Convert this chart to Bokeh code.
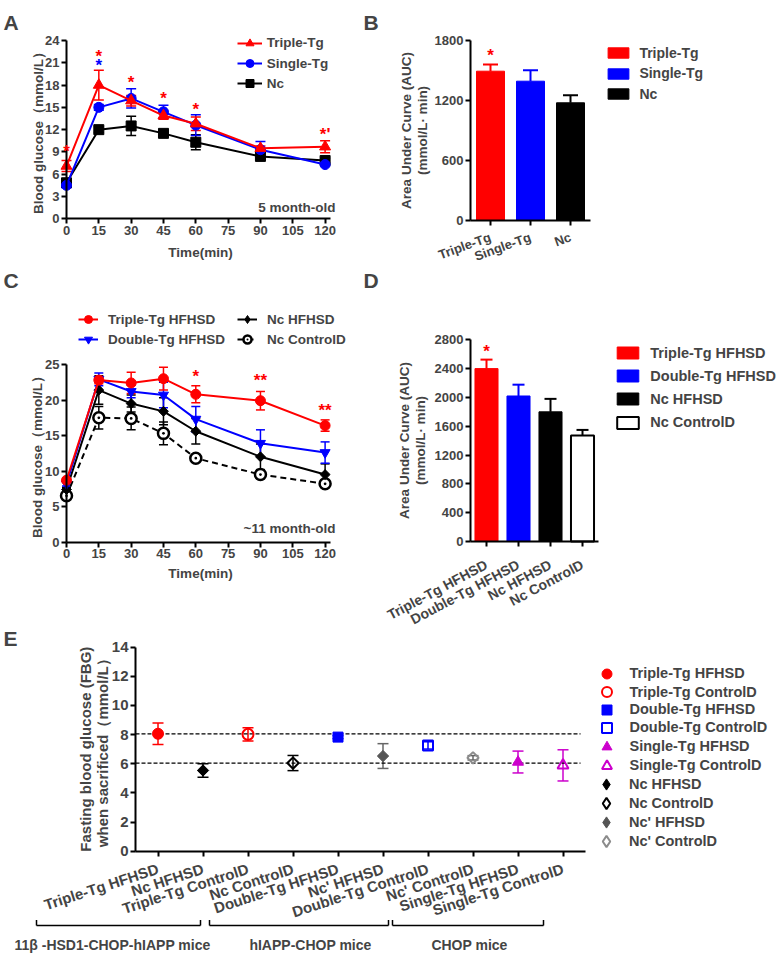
import math
from bokeh.plotting import figure
from bokeh.models import (ColumnDataSource, FixedTicker, Range1d, Legend, LegendItem, LinearAxis,
                          Whisker, TeeHead, Label, LabelSet, Arrow)
from bokeh.embed import file_html
from bokeh.resources import INLINE
from bokeh.core.properties import value

FONT = "Liberation Sans"
RED, BLUE, BLACK = "#ff0000", "#0000ff", "#000000"
MAGENTA, DGRAY, LGRAY = "#cc00cc", "#555555", "#8c8c8c"
W, H = 776, 954

# ---------------- data ----------------
time_min = [0, 15, 30, 45, 60, 90, 120]
time_ticks = [0, 15, 30, 45, 60, 75, 90, 105, 120]

# Panel A (5 month-old)
a_triple = [7.1, 18.0, 15.9, 13.9, 12.8, 9.5, 9.7]
a_triple_err = [0.75, 2.0, 0.7, 0.5, 0.9, 0.3, 0.8]
a_single = [4.5, 15.0, 16.2, 14.4, 12.6, 9.3, 7.3]
a_single_err = [0.3, 0.4, 1.3, 0.9, 1.4, 1.1, 0.2]
a_nc = [4.85, 12.0, 12.5, 11.5, 10.3, 8.4, 7.85]
a_nc_err = [0.3, 0.4, 1.3, 0.4, 1.0, 0.4, 0.3]
a_sig_t = [0, 15, 15, 30, 45, 60, 120]
a_sig_y = [9.0, 21.8, 20.7, 18.3, 16.2, 14.7, 11.4]
a_sig_txt = ["*", "*", "*", "*", "*", "*", "*'"]
a_sig_col = [RED, RED, BLUE, RED, RED, RED, RED]

# Panel B (AUC, 5 month-old)
b_groups = ["Triple-Tg", "Single-Tg", "Nc"]
b_auc = [1493, 1393, 1177]
b_err = [67, 110, 76]

# Panel C (~11 month-old)
c_triple = [8.7, 22.8, 22.4, 23.0, 20.8, 19.9, 16.4]
c_triple_err = [0.3, 0.5, 1.5, 1.6, 1.2, 1.3, 0.8]
c_double = [8.2, 22.9, 21.2, 20.7, 17.3, 13.9, 12.6]
c_double_err = [0.3, 0.9, 0.9, 1.8, 1.8, 1.9, 1.5]
c_nc = [7.4, 21.4, 19.5, 18.4, 15.6, 12.0, 9.5]
c_nc_err = [0.3, 2.0, 1.2, 1.9, 1.8, 1.8, 1.5]
c_ctrl = [6.5, 17.5, 17.4, 15.3, 11.8, 9.5, 8.2]
c_ctrl_err = [0.3, 1.6, 1.6, 1.6, 0.4, 0.6, 0.4]
c_sig_t = [60, 90, 120]
c_sig_y = [23.3, 22.75, 18.55]
c_sig_txt = ["*", "**", "**"]

# Panel D (AUC, ~11 month-old)
d_groups = ["Triple-Tg HFHSD", "Double-Tg HFHSD", "Nc HFHSD", "Nc ControlD"]
d_auc = [2400, 2020, 1800, 1470]
d_err = [125, 157, 180, 79]

# Panel E (FBG when sacrificed)
e_groups = ["Triple-Tg HFHSD", "Nc HFHSD", "Triple-Tg ControlD", "Nc ControlD", "Double-Tg HFHSD",
            "Nc' HFHSD", "Double-Tg ControlD", "Nc' ControlD", "Single-Tg HFHSD", "Single-Tg ControlD"]
e_fbg = [8.06, 5.54, 8.02, 6.05, 7.83, 6.53, 7.26, 6.41, 6.12, 5.89]
e_sem = [0.73, 0.46, 0.45, 0.52, 0.10, 0.85, 0.25, 0.15, 0.75, 1.07]
e_ref_levels = [8.05, 6.05]
e_legend_order = ["Triple-Tg HFHSD", "Triple-Tg ControlD", "Double-Tg HFHSD", "Double-Tg ControlD",
                  "Single-Tg HFHSD", "Single-Tg ControlD", "Nc HFHSD", "Nc ControlD", "Nc' HFHSD", "Nc' ControlD"]
e_mouse_lines = ["11β -HSD1-CHOP-hIAPP mice", "hIAPP-CHOP mice", "CHOP mice"]

# marker styles for E: (marker, colour, filled, size, angle)
DIAM = math.pi / 4
e_style = {
    "Triple-Tg HFHSD": ("circle", RED, True, 11, 0),
    "Triple-Tg ControlD": ("circle", RED, False, 11, 0),
    "Double-Tg HFHSD": ("square", BLUE, True, 10, 0),
    "Double-Tg ControlD": ("square", BLUE, False, 10, 0),
    "Single-Tg HFHSD": ("triangle", MAGENTA, True, 11, 0),
    "Single-Tg ControlD": ("triangle", MAGENTA, False, 11, 0),
    "Nc HFHSD": ("square", BLACK, True, 8, DIAM),
    "Nc ControlD": ("square", BLACK, False, 8, DIAM),
    "Nc' HFHSD": ("square", DGRAY, True, 8, DIAM),
    "Nc' ControlD": ("square", LGRAY, False, 8, DIAM),
}

# ---------------- one canvas, one coordinate system per panel ----------------
p = figure(width=W, height=H, x_range=Range1d(0, W), y_range=Range1d(H, 0),
           x_axis_location=None, y_axis_location=None, output_backend="svg", toolbar_location=None,
           min_border=0, min_border_left=0, min_border_right=0, min_border_top=0, min_border_bottom=0)
p.grid.visible = False
p.outline_line_color = None


def lin(pa, pb, da, db):
    return lambda px: da + (px - pa) * (db - da) / (pb - pa)


# panel -> (x pixel a, x pixel b, x data a, x data b), (y pixel a, y pixel b, y data a, y data b)
panel_maps = {
    "A": ((66, 324.6, 0, 120), (218.3, 40, 0, 24)),
    "B": ((470, 590, 0.5, 3.5), (220, 40, 0, 1800)),
    "C": ((66, 324.6, 0, 120), (541.5, 364, 0, 25)),
    "D": ((470, 598, 0.5, 4.5), (541, 339.3, 0, 2800)),
    "E": ((135, 585, 0.5, 10.5), (850.7, 646.7, 0, 14)),
}
xr, yr = {}, {}
for k, (mx, my) in panel_maps.items():
    fx, fy = lin(*mx), lin(*my)
    xr["x" + k] = Range1d(fx(0), fx(W))
    yr["y" + k] = Range1d(fy(H), fy(0))
p.extra_x_ranges = xr
p.extra_y_ranges = yr


def rn(k):
    return dict(x_range_name="x" + k, y_range_name="y" + k)


def style_axis(ax, size, standoff=2):
    ax.axis_line_width = 2
    ax.major_tick_line_width = 2
    ax.major_tick_in = 0
    ax.major_tick_out = 5
    ax.minor_tick_line_color = None
    ax.major_label_text_font = FONT
    ax.major_label_text_font_style = "bold"
    ax.major_label_text_font_size = size
    ax.major_label_standoff = standoff


def axes(k, xbounds, ybounds, xticks, yticks, size="13px", xsize=None, xlabels=None, angle=0.0, xstand=2):
    ya = LinearAxis(fixed_location=xbounds[0], bounds=ybounds, ticker=FixedTicker(ticks=yticks), **rn(k))
    style_axis(ya, size)
    p.add_layout(ya, "left")
    xa = LinearAxis(fixed_location=ybounds[0], bounds=xbounds, ticker=FixedTicker(ticks=xticks), **rn(k))
    style_axis(xa, xsize or size, xstand)
    if xlabels:
        xa.major_label_overrides = {t: s for t, s in zip(xticks, xlabels)}
    if angle:
        xa.major_label_orientation = angle
    p.add_layout(xa, "below")


def text(x, y, s, size="13px", align="center", baseline="middle", angle=0.0):
    p.add_layout(Label(x=x, y=y, text=s, text_font=FONT, text_font_style="bold", text_font_size=size,
                       text_align=align, text_baseline=baseline, angle=angle))


def curve(k, xs, ys, es, color, marker, size, dash="solid", fill=None, cap=10, mlw=1.0, angle=0.0):
    src = ColumnDataSource(dict(x=xs, y=ys, lo=[a - b for a, b in zip(ys, es)],
                                hi=[a + b for a, b in zip(ys, es)]))
    p.add_layout(Whisker(source=src, base="x", lower="lo", upper="hi", line_color=color, line_width=1.5,
                         lower_head=TeeHead(size=cap, line_color=color, line_width=1.5),
                         upper_head=TeeHead(size=cap, line_color=color, line_width=1.5), **rn(k)))
    lr = p.line("x", "y", source=src, line_color=color, line_width=2, line_dash=dash, **rn(k))
    sr = p.scatter("x", "y", source=src, marker=marker, size=size, angle=angle,
                   fill_color=fill if fill else color, line_color=color, line_width=mlw, **rn(k))
    return [lr, sr]


def legend_diamond(k, color, filled):
    # an undrawn twin renderer: the legend shows a diamond for the rotated-square data markers
    r = p.scatter(x=[0], y=[0], marker="diamond", fill_color=color, line_color=color,
                  fill_alpha=1 if filled else 0, line_width=1 if filled else 2, **rn(k))
    r.visible = False
    return r


def legend1(label, renderers, left, cy, gw, gh, lh, standoff, size, top_off=None):
    h = max(gh, lh)
    top = cy - (h / 2 if top_off is None else top_off)
    leg = Legend(items=[LegendItem(label=label, renderers=renderers)], location=(left, H - (top + h)),
                 glyph_width=int(gw), glyph_height=int(gh), label_height=int(lh),
                 label_standoff=int(round(standoff)),
                 spacing=0, padding=0, margin=0, border_line_color=None, background_fill_color=None,
                 inactive_fill_alpha=0,
                 label_text_font=FONT, label_text_font_style="bold", label_text_font_size=size)
    p.add_layout(leg)


def sig_labels(k, xs, ys, txt, cols, size="17px"):
    src = ColumnDataSource(dict(x=xs, y=ys, t=txt, c=cols))
    p.add_layout(LabelSet(x="x", y="y", text="t", source=src, text_color="c", text_align="center",
                          text_baseline="middle", text_font=value(FONT), text_font_style="bold",
                          text_font_size=size, **rn(k)))


# ---------------- Panel A ----------------
rA_nc = curve("A", time_min, a_nc, a_nc_err, BLACK, "square", 10)
rA_single = curve("A", time_min, a_single, a_single_err, BLUE, "circle", 10)
rA_triple = curve("A", time_min, a_triple, a_triple_err, RED, "triangle", 11)
axes("A", (0, 122.5), (0, 24), time_ticks, list(range(0, 25, 3)))
for lab, rr, cy in [("Triple-Tg", rA_triple, 42.7), ("Single-Tg", rA_single, 63), ("Nc", rA_nc, 83.3)]:
    legend1(lab, rr, 236.7, cy, 25, 20, 20, 5, "13.5px")
sig_labels("A", a_sig_t, a_sig_y, a_sig_txt, a_sig_col)
text(37.5, 129, "Blood glucose（mmol/L）", size="13.5px", angle=math.pi / 2)
text(200, 252, "Time(min)", size="13.5px")
text(335, 207, "5 month-old", size="13.5px", align="right")

# ---------------- Panel B ----------------
b_x = list(range(1, len(b_groups) + 1))
for xi, g, v, e, c in zip(b_x, b_groups, b_auc, b_err, [RED, BLUE, BLACK]):
    src = ColumnDataSource(dict(x=[xi], top=[v], hi=[v + e]))
    r = p.vbar(x="x", top="top", width=0.7, source=src, fill_color=c, line_color=c, **rn("B"))
    p.add_layout(Whisker(source=src, base="x", lower="top", upper="hi", line_color=c, line_width=2,
                         lower_head=None, upper_head=TeeHead(size=15, line_color=c, line_width=2), **rn("B")))
    legend1(g, [r], 605.4, [52, 72.3, 93][xi - 1], 26, 13, 16, 8, "14px", top_off=7.2)
axes("B", (0.5, 3.5), (0, 1800), b_x, [0, 600, 1200, 1800], xlabels=b_groups, angle=math.radians(20),
     xstand=11)
sig_labels("B", [1], [1653], ["*"], [RED])
text(406, 130, "Area Under Curve (AUC)", size="13.5px", angle=math.pi / 2)
text(422, 130, "(mmol/L· min)", size="13.5px", angle=math.pi / 2)

# ---------------- Panel C ----------------
rC_ctrl = curve("C", time_min, c_ctrl, c_ctrl_err, BLACK, "circle_dot", 11, dash="6 4", fill="white",
                cap=9, mlw=2.5)
rC_nc = curve("C", time_min, c_nc, c_nc_err, BLACK, "square", 7, cap=9, angle=DIAM)
rC_double = curve("C", time_min, c_double, c_double_err, BLUE, "inverted_triangle", 10, cap=9)
rC_triple = curve("C", time_min, c_triple, c_triple_err, RED, "circle", 10, cap=9)
axes("C", (0, 122.5), (0, 25), time_ticks, list(range(0, 26, 5)))
rC_nc_leg = [rC_nc[0], legend_diamond("C", BLACK, True)]
for lab, rr, lx, cy in [("Triple-Tg HFHSD", rC_triple, 78, 319), ("Double-Tg HFHSD", rC_double, 78, 339.3),
                        ("Nc HFHSD", rC_nc_leg, 237, 319), ("Nc ControlD", rC_ctrl, 237, 339.3)]:
    legend1(lab, rr, lx, cy, 20, 20, 20, 10, "13.5px")
sig_labels("C", c_sig_t, c_sig_y, c_sig_txt, [RED] * 3)
text(37, 453, "Blood glucose（mmol/L）", size="13.5px", angle=math.pi / 2)
text(200, 573, "Time(min)", size="13.5px")
text(335, 528, "~11 month-old", size="13.5px", align="right")

# ---------------- Panel D ----------------
d_x = list(range(1, len(d_groups) + 1))
d_cy = [352, 375, 398, 421.7]
for xi, g, v, e, fc, lc in zip(d_x, d_groups, d_auc, d_err, [RED, BLUE, BLACK, "white"],
                               [RED, BLUE, BLACK, BLACK]):
    src = ColumnDataSource(dict(x=[xi], top=[v], hi=[v + e]))
    r = p.vbar(x="x", top="top", width=0.72, source=src, fill_color=fc, line_color=lc,
               line_width=2 if fc == "white" else 1, **rn("D"))
    p.add_layout(Whisker(source=src, base="x", lower="top", upper="hi", line_color=lc, line_width=2,
                         lower_head=None, upper_head=TeeHead(size=12, line_color=lc, line_width=2), **rn("D")))
    legend1(g, [r], 614.3, d_cy[xi - 1], 27, 15, 17, 9, "14.5px", top_off=8)
axes("D", (0.5, 4.5), (0, 2800), d_x, list(range(0, 2801, 400)), xsize="14px", xlabels=d_groups,
     angle=math.radians(28), xstand=17)
sig_labels("D", [1], [2643], ["*"], [RED])
text(404, 440, "Area Under Curve (AUC)", size="13.5px", angle=math.pi / 2)
text(420, 440, "(mmol/L· min)", size="13.5px", angle=math.pi / 2)

# ---------------- Panel E ----------------
e_x = list(range(1, len(e_groups) + 1))
for lvl in e_ref_levels:
    p.segment(x0=0.5, x1=len(e_groups) + 0.39, y0=lvl, y1=lvl, line_color=BLACK, line_width=1.2,
              line_dash="4 2", **rn("E"))
e_rend = {}
for xi, g, v, e in zip(e_x, e_groups, e_fbg, e_sem):
    mk, col, filled, sz, ang = e_style[g]
    src = ColumnDataSource(dict(x=[xi], y=[v], lo=[v - e], hi=[v + e]))
    wcol = "#666666" if col in (DGRAY, LGRAY) else col
    p.add_layout(Whisker(source=src, base="x", lower="lo", upper="hi", line_color=wcol, line_width=1.5,
                         lower_head=TeeHead(size=11, line_color=wcol, line_width=1.5),
                         upper_head=TeeHead(size=11, line_color=wcol, line_width=1.5), **rn("E")))
    r = p.scatter("x", "y", source=src, marker=mk, size=sz, angle=ang, line_color=col,
                  fill_color=col, fill_alpha=1 if filled else 0, line_width=1 if filled else 2, **rn("E"))
    e_rend[g] = legend_diamond("E", col, filled) if ang else r
axes("E", (0.5, 10.5), (0, 14), e_x, list(range(0, 15, 2)), size="15px", xsize="15px",
     xlabels=e_groups, angle=math.radians(18), xstand=12)
e_cy = [673.3, 691.7, 709, 727.3, 746, 765, 783.5, 803.3, 821.7, 841]
for g, cy in zip(e_legend_order, e_cy):
    box = 28 if e_style[g][4] else 25
    legend1(g, [e_rend[g]], 606 - box / 2, cy, box, box, box, 23 - box // 2, "14.5px")
text(85, 748.7, "Fasting blood glucose (FBG)", size="15px", angle=math.pi / 2)
text(102, 748.7, "when sacrificed（mmol/L）", size="15px", angle=math.pi / 2)

# brackets grouping the mouse lines (page pixel coordinates)
br_x0 = [36, 209, 392]
br_x1 = [200, 388, 543]
br_text_x = [112, 310, 469]
y_base, y_tip, y_txt = 925, 919.5, 944.5
seg = dict(xs=[], ys=[], xe=[], ye=[])
for a, b in zip(br_x0, br_x1):
    seg["xs"] += [a, a, b]
    seg["xe"] += [b, a, b]
    seg["ys"] += [y_base] * 3
    seg["ye"] += [y_base, y_tip, y_tip]
p.add_layout(Arrow(x_start="xs", y_start="ys", x_end="xe", y_end="ye", source=ColumnDataSource(seg),
                   end=None, line_color=BLACK, line_width=1.5))
for tx, s in zip(br_text_x, e_mouse_lines):
    text(tx, y_txt, s, size="14px", baseline="alphabetic")

# panel letters
for s, lx, ly in [("A", 3, 22), ("B", 363, 22), ("C", 3, 280), ("D", 363, 280), ("E", 3, 638)]:
    text(lx, ly, s, size="21px", align="left", baseline="alphabetic")

open("out.html", "w").write(file_html(p, INLINE))
